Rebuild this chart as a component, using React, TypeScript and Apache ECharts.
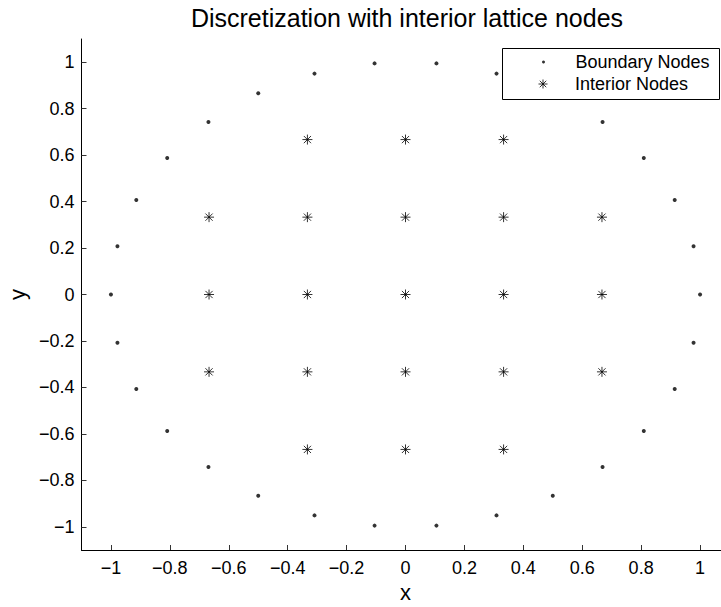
import React, { useEffect, useRef } from "react";
import * as echarts from "echarts";

const titleText = "Discretization with interior lattice nodes";

const boundaryX = [
  1, 0.978, 0.914, 0.809, 0.669, 0.5, 0.309, 0.105, -0.105, -0.309, -0.5, -0.669, -0.809, -0.914, -0.978,
  -1, -0.978, -0.914, -0.809, -0.669, -0.5, -0.309, -0.105, 0.105, 0.309, 0.5, 0.669, 0.809, 0.914, 0.978,
];
const boundaryY = [
  0, 0.208, 0.407, 0.588, 0.743, 0.866, 0.951, 0.995, 0.995, 0.951, 0.866, 0.743, 0.588, 0.407, 0.208,
  0, -0.208, -0.407, -0.588, -0.743, -0.866, -0.951, -0.995, -0.995, -0.951, -0.866, -0.743, -0.588, -0.407, -0.208,
];

const interiorX = [
  -0.333, 0, 0.333,
  -0.667, -0.333, 0, 0.333, 0.667,
  -0.667, -0.333, 0, 0.333, 0.667,
  -0.667, -0.333, 0, 0.333, 0.667,
  -0.333, 0, 0.333,
];
const interiorY = [
  0.667, 0.667, 0.667,
  0.333, 0.333, 0.333, 0.333, 0.333,
  0, 0, 0, 0, 0,
  -0.333, -0.333, -0.333, -0.333, -0.333,
  -0.667, -0.667, -0.667,
];

const xTicks = [-1, -0.8, -0.6, -0.4, -0.2, 0, 0.2, 0.4, 0.6, 0.8, 1];
const yTicks = [-1, -0.8, -0.6, -0.4, -0.2, 0, 0.2, 0.4, 0.6, 0.8, 1];

const FONT = "'Liberation Sans', Arial, Helvetica, sans-serif";
const ASTERISK = "path://M0,-5L0,5M-5,0L5,0M-3.6,-3.6L3.6,3.6M-3.6,3.6L3.6,-3.6";

const fmt = (v: number) => String(v).replace("-", "\u2212");

export default function App() {
  const ref = useRef<HTMLDivElement>(null);
  useEffect(() => {
    if (!ref.current) return;
    const chart = echarts.init(ref.current, null, { renderer: "svg" });
    const axisCommon = {
      type: "value" as const,
      min: -1.1,
      max: 1.1,
      splitLine: { show: false },
      axisLine: { onZero: false, lineStyle: { color: "#000", width: 1 } },
      axisTick: { inside: true, length: 5, lineStyle: { color: "#333" } },
      nameLocation: "middle" as const,
      nameTextStyle: { fontFamily: FONT, fontSize: 22, color: "#000" },
    };
    chart.setOption({
      animation: false,
      title: {
        text: titleText,
        left: 402,
        textAlign: "center",
        top: 0,
        textStyle: { fontFamily: FONT, fontSize: 25, fontWeight: "normal", color: "#000" },
      },
      grid: { left: 81.5, top: 39, width: 648, height: 511, outerBoundsMode: "none", containLabel: false },
      xAxis: {
        ...axisCommon,
        name: "x",
        nameGap: 31,
        axisTick: { ...axisCommon.axisTick, customValues: xTicks },
        axisLabel: {
          customValues: xTicks,
          formatter: fmt,
          margin: 9,
          fontFamily: FONT,
          fontSize: 18,
          color: "#000",
        },
      },
      yAxis: {
        ...axisCommon,
        name: "y",
        nameGap: 50,
        axisTick: { ...axisCommon.axisTick, customValues: yTicks },
        axisLabel: {
          customValues: yTicks,
          formatter: fmt,
          margin: 7,
          fontFamily: FONT,
          fontSize: 18,
          color: "#000",
        },
      },
      legend: [
        {
          data: ["Boundary Nodes"],
          left: 542,
          top: 53,
          padding: 0,
          itemWidth: 54,
          itemHeight: 3,
          icon: "circle",
          z: 20,
          textStyle: { fontFamily: FONT, fontSize: 18, color: "#000" },
        },
        {
          data: ["Interior Nodes"],
          left: 536,
          top: 75,
          padding: 0,
          itemWidth: 54,
          itemHeight: 9,
          icon: ASTERISK,
          z: 20,
          itemStyle: { color: "none", borderColor: "#000", borderWidth: 1 },
          textStyle: { fontFamily: FONT, fontSize: 18, color: "#000" },
        },
      ],
      graphic: [
        {
          type: "rect",
          shape: { x: 502.5, y: 48.5, width: 217, height: 51 },
          style: { fill: "#fff", stroke: "#000", lineWidth: 1 },
          z: 10,
        },
      ],
      series: [
        {
          name: "Boundary Nodes",
          type: "scatter",
          symbol: "circle",
          symbolSize: 4,
          itemStyle: { color: "#000" },
          data: boundaryX.map((x, i) => [x, boundaryY[i]]),
          z: 2,
        },
        {
          name: "Interior Nodes",
          type: "scatter",
          symbol: ASTERISK,
          symbolSize: 10,
          itemStyle: { color: "none", borderColor: "#000", borderWidth: 1 },
          data: interiorX.map((x, i) => [x, interiorY[i]]),
          z: 2,
        },
      ],
    });
    return () => chart.dispose();
  }, []);
  return (
    <div
      ref={ref}
      style={{ position: "fixed", left: 0, top: 0, width: 721, height: 607, background: "#fff" }}
    />
  );
}
